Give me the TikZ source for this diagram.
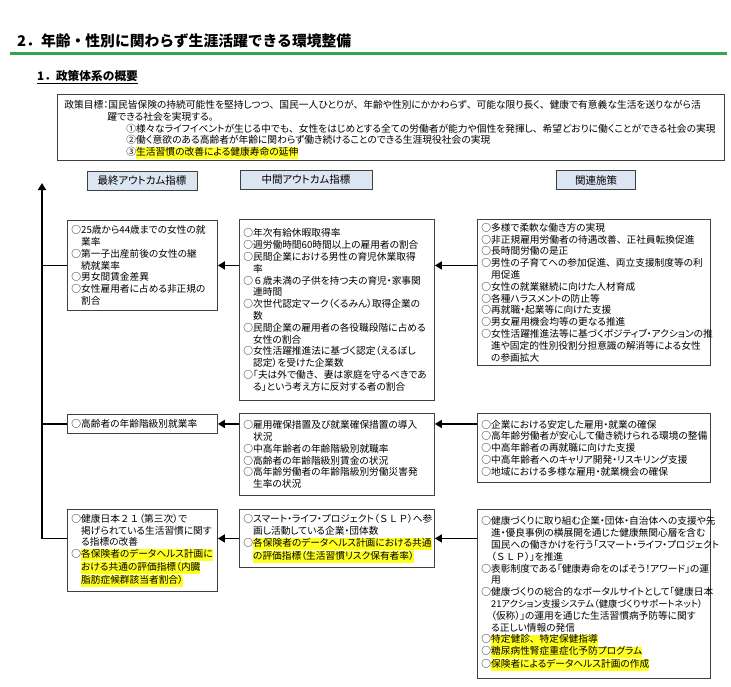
\documentclass[tikz,border=0pt]{standalone}
\usepackage{fontspec}
\setmainfont{Noto Sans CJK JP}[RawFeature={+palt}]
\newfontfamily\plainjp{Noto Sans CJK JP}
\usetikzlibrary{arrows.meta}
\definecolor{boxgray}{HTML}{404040}
\definecolor{hdrblue}{HTML}{DCE6F2}
\definecolor{hlyellow}{HTML}{FFFF20}
\definecolor{titlegreen}{HTML}{2EA64F}
\newcommand\hlt[1]{{\setlength{\fboxsep}{0pt}\colorbox{hlyellow}{\strut#1}}}
\newcommand\fwc[1]{\makebox[1em]{#1}}
\newcommand\tn{\makebox[1em][l]{、}}
\newcommand\ind{\hspace*{1em}}
\newcommand\bodyfont{\fontsize{9.7}{11.8}\selectfont}
\begin{document}
\begin{tikzpicture}[x=1pt,y=-1pt,
  box/.style={draw=boxgray, line width=0.9pt, anchor=north west, align=left, inner xsep=4pt, inner ysep=2pt, font=\bodyfont},
  hdr/.style={draw=boxgray, line width=0.9pt, fill=hdrblue, minimum height=19pt, inner sep=0pt, font=\fontsize{10.5}{12}\selectfont},
  arr/.style={line width=1.8pt, -{Triangle[length=7pt,width=8pt]}},
  link/.style={line width=1.8pt},
]
\useasboundingbox (0,0) rectangle (731,686);
\fill[white] (0,0) rectangle (731,686);

% title
\node[anchor=west, inner sep=0pt, font=\plainjp\fontsize{14.8}{16}\selectfont\bfseries] (title) at (17,41) {2．年齢・性別に関わらず生涯活躍できる環境整備};
\draw[titlegreen, line width=3pt] (10,53) -- (727,53);
\node[anchor=west, inner sep=0pt, font=\plainjp\fontsize{11.7}{13}\selectfont\bfseries] (sub) at (37,77) {\underline{1．政策体系の概要}};

% goal
\node[box, text width=653pt, minimum width=667pt, minimum height=62pt, inner xsep=7pt, font=\fontsize{9.75}{11.6}\selectfont] (goal) at (57,94) {\rule{0pt}{12.5pt}政策目標：国民皆保険の持続可能性を堅持しつつ\tn 国民一人ひとりが\tn 年齢や性別にかかわらず\tn 可能な限り長く\tn 健康で有意義な生活を送りながら活\\
\hspace*{43pt}躍できる社会を実現する。\\
\hspace*{62pt}①様々なライフイベントが生じる中でも\tn 女性をはじめとする全ての労働者が能力や個性を発揮し\tn 希望どおりに働くことができる社会の実現\\
\hspace*{62pt}②働く意欲のある高齢者が年齢に関わらず働き続けることのできる生涯現役社会の実現\\
\hspace*{62pt}③\hlt{生活習慣の改善による健康寿命の延伸}};

% headers
\node[hdr, minimum width=110pt] (h1) at (142,181) {最終アウトカム指標};
\node[hdr, minimum width=132pt] (h2) at (306,180) {中間アウトカム指標};
\node[hdr, minimum width=79pt] (h3) at (596,180) {関連施策};

% row 1
\node[box, text width=142pt, minimum height=90pt] (L1) at (67,220) {○25歳から44歳までの女性の就\\
\ind 業率\\
○第一子出産前後の女性の継\\
\ind 続就業率\\
○男女間賃金差異\\
○女性雇用者に占める非正規の\\
\ind 割合};
\node[box, text width=187pt, minimum height=181pt] (M1) at (239,219) {○年次有給休暇取得率\\
○週労働時間60時間以上の雇用者の割合\\
○民間企業における男性の育児休業取得\\
\ind 率\\
○\fwc{６}歳未満の子供を持つ夫の育児・家事関\\
\ind 連時間\\
○次世代認定マーク（くるみん）取得企業の\\
\ind 数\\
○民間企業の雇用者の各役職段階に占める\\
\ind 女性の割合\\
○女性活躍推進法に基づく認定（えるぼし\\
\ind 認定）を受けた企業数\\
○「夫は外で働き\tn 妻は家庭を守るべきであ\\
\ind る」という考え方に反対する者の割合};
\node[box, text width=225pt, minimum height=146pt] (R1) at (477,219) {○多様で柔軟な働き方の実現\\
○非正規雇用労働者の待遇改善\tn 正社員転換促進\\
○長時間労働の是正\\
○男性の子育てへの参加促進\tn 両立支援制度等の利\\
\ind 用促進\\
○女性の就業継続に向けた人材育成\\
○各種ハラスメントの防止等\\
○再就職・起業等に向けた支援\\
○男女雇用機会均等の更なる推進\\
○女性活躍推進法等に基づくポジティブ・アクションの推\\
\ind 進や固定的性別役割分担意識の解消等による女性\\
\ind の参画拡大};

% row 2
\node[box, text width=142pt, minimum height=19pt] (L2) at (67,414) {○高齢者の年齢階級別就業率};
\node[box, text width=187pt, minimum height=82pt] (M2) at (239,413) {○雇用確保措置及び就業確保措置の導入\\
\ind 状況\\
○中高年齢者の年齢階級別就職率\\
○高齢者の年齢階級別賃金の状況\\
○高年齢労働者の年齢階級別労働災害発\\
\ind 生率の状況};
\node[box, text width=225pt, minimum height=69pt] (R2) at (477,413) {○企業における安定した雇用・就業の確保\\
○高年齢労働者が安心して働き続けられる環境の整備\\
○中高年齢者の再就職に向けた支援\\
○中高年齢者へのキャリア開発・リスキリング支援\\
○地域における多様な雇用・就業機会の確保};

% row 3
\node[box, text width=142pt, minimum height=82pt] (L3) at (67,509) {○健康日本\fwc{２}\fwc{１}（第三次）で\\
\ind 掲げられている生活習慣に関す\\
\ind る指標の改善\\
○\hlt{各保険者のデータヘルス計画に}\\
\ind\hlt{おける共通の評価指標（内臓}\\
\ind\hlt{脂肪症候群該当者割合）}};
\node[box, text width=187pt, minimum height=58pt] (M3) at (239,509) {○スマート・ライフ・プロジェクト（\fwc{Ｓ}\fwc{Ｌ}\fwc{Ｐ}）へ参\\
\ind 画し活動している企業・団体数\\
○\hlt{各保険者のデータヘルス計画における共通}\\
\ind\hlt{の評価指標（生活習慣リスク保有者率）}};
\node[box, text width=225pt, minimum height=169pt] (R3) at (477,509) {○健康づくりに取り組む企業・団体・自治体への支援や先\\
\ind 進・優良事例の横展開を通じた健康無関心層を含む\\
\ind 国民への働きかけを行う「スマート・ライフ・プロジェクト\\
\ind （\fwc{Ｓ}\fwc{Ｌ}\fwc{Ｐ}）」を推進\\
○表彰制度である「健康寿命をのばそう！アワード」の運\\
\ind 用\\
○健康づくりの総合的なポータルサイトとして「健康日本\\
\ind {\fontsize{9.3}{11.8}\selectfont 21アクション支援システム（健康づくりサポートネット）}\\
\ind （仮称）」の運用を通じた生活習慣病予防等に関す\\
\ind る正しい情報の発信\\
○\hlt{特定健診\tn 特定保健指導}\\
○\hlt{糖尿病性腎症重症化予防プログラム}\\
○\hlt{保険者によるデータヘルス計画の作成}};

% connectors
\coordinate (vtop) at (42,183);
\draw[arr] (R1.west |- L1.west) -- (M1.east |- L1.west);
\draw[arr] (M1.west |- L1.west) -- (L1.east);
\draw[link] (L1.west) -- (L1.west -| vtop);
\draw[arr] (R2.west |- L2.west) -- (M2.east |- L2.west);
\draw[arr] (M2.west |- L2.west) -- (L2.east);
\draw[link] (L2.west) -- (L2.west -| vtop);
\draw[arr] (R3.west |- M3.east) -- (M3.east);
\draw[arr] (M3.west) -- (L3.east |- M3.west);
\draw[arr] (L3.west |- M3.west) -- (M3.west -| vtop) -- (vtop);
\end{tikzpicture}
\end{document}
